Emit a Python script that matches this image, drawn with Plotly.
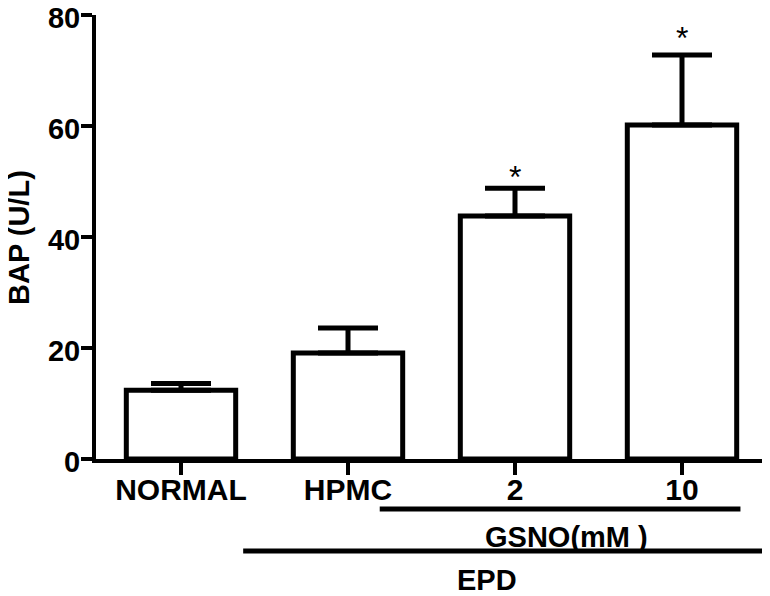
import plotly.graph_objects as go

# data
groups = ["NORMAL", "HPMC", "2", "10"]
bap = [12.4, 19.1, 43.8, 60.2]
bap_err = [1.2, 4.5, 5.0, 12.6]
star_y = [None, None, 51.7, 76.8]

FONT = "Liberation Sans, Arial, sans-serif"
xpos = list(range(len(groups)))

fig = go.Figure()
fig.add_trace(go.Bar(
    x=xpos,
    y=bap,
    width=0.655,
    marker=dict(color="white", line=dict(color="black", width=5)),
    error_y=dict(type="data", array=bap_err, arrayminus=[0] * len(bap_err),
                 symmetric=False, color="black", thickness=5, width=30),
    showlegend=False,
))

# significance stars
for xi, sy in zip(xpos, star_y):
    if sy is not None:
        fig.add_annotation(x=xi, y=sy, text="*", showarrow=False, yshift=-5,
                           font=dict(family=FONT, size=32, color="black"))

# group brackets under the axis
fig.add_shape(type="line", xref="x", yref="paper", x0=1.19, x1=3.35, y0=-0.1126, y1=-0.1126,
              line=dict(color="black", width=5))
fig.add_shape(type="line", xref="paper", yref="paper", x0=0.219, x1=1.02, y0=-0.207, y1=-0.207,
              line=dict(color="black", width=5))
fig.add_annotation(x=2.31, y=-0.176, xref="x", yref="paper", text="GSNO(mM )", showarrow=False,
                   yanchor="middle", font=dict(family=FONT, size=29, color="black", weight="bold"))
fig.add_annotation(x=1.83, y=-0.272, xref="x", yref="paper", text="EPD", showarrow=False,
                   yanchor="middle", font=dict(family=FONT, size=29, color="black", weight="bold"))
# y title as annotation so it can sit close to the edge
fig.add_annotation(x=-0.1146, y=0.5, xref="paper", yref="paper", text="BAP (U/L)", showarrow=False,
                   textangle=-90, xanchor="center", yanchor="middle",
                   font=dict(family=FONT, size=29, color="black", weight="bold"))

# page body adds 8px, so margins are shifted by that
fig.update_layout(
    width=770, height=596,
    margin=dict(l=88, r=10, t=7, b=145),
    plot_bgcolor="white", paper_bgcolor="white",
    xaxis=dict(range=[-0.509, 3.515], tickvals=xpos, ticktext=groups,
               showline=True, linecolor="black", linewidth=4,
               ticks="outside", ticklen=12, tickwidth=4, tickcolor="black",
               showgrid=False, zeroline=False, automargin=False,
               ticklabelstandoff=-11,
               tickfont=dict(family=FONT, size=30, color="black", weight="bold")),
    yaxis=dict(range=[0, 80], tickvals=[0, 20, 40, 60, 80],
               showline=True, linecolor="black", linewidth=4,
               ticks="outside", ticklen=11, tickwidth=4, tickcolor="black",
               showgrid=False, zeroline=False, automargin=False,
               ticklabeloverflow="allow", ticklabelstandoff=-5, ticklabelshift=3,
               tickfont=dict(family=FONT, size=29, color="black", weight="bold")),
)

fig.write_html("out.html")
